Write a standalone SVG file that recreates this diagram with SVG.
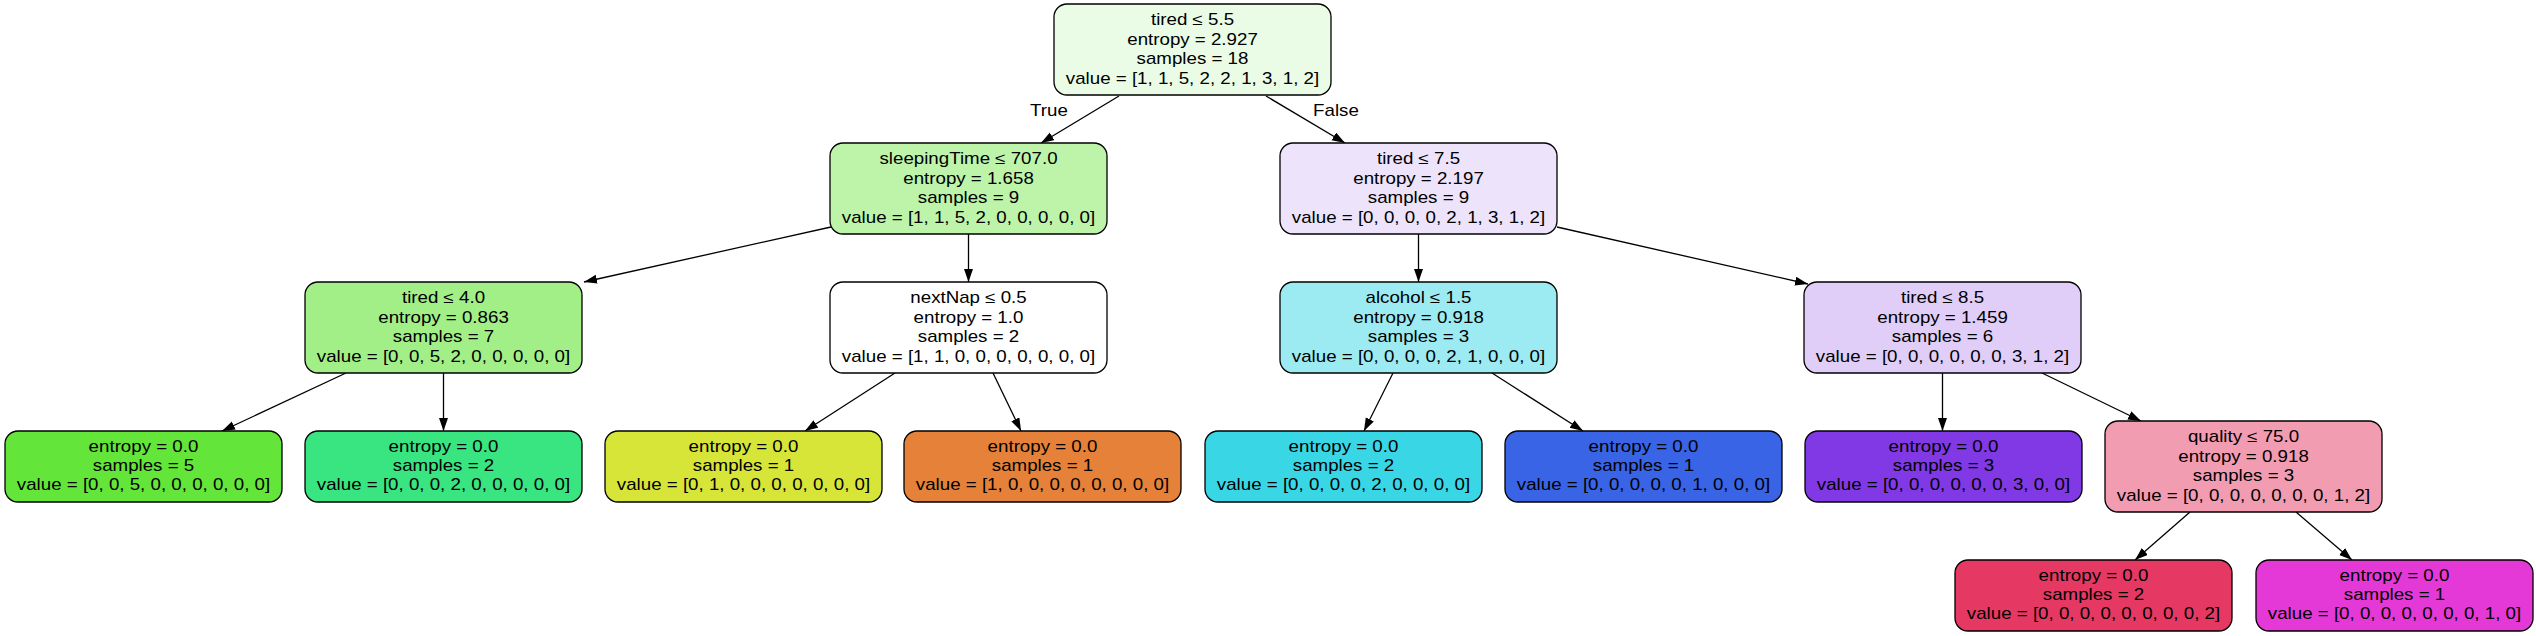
<svg xmlns="http://www.w3.org/2000/svg" width="2536" height="636" viewBox="0 0 2536 636">
<style>
.box{stroke:#000;stroke-width:1.3}
.t{font-family:"Liberation Sans",Arial,sans-serif;font-size:16px;fill:#000;text-anchor:middle}
.e{stroke:#000;stroke-width:1.3;fill:none;marker-end:url(#ah)}
</style>
<defs>
<marker id="ah" markerUnits="userSpaceOnUse" markerWidth="14" markerHeight="10" refX="13" refY="4.5" orient="auto">
<path d="M0,0 L13,4.5 L0,9 z" fill="#000"/>
</marker>
</defs>
<rect width="2536" height="636" fill="#fff"/>
<g id="edges">
<line class="e" x1="1119" y1="96" x2="1041" y2="143"/>
<line class="e" x1="1266" y1="96" x2="1345" y2="143"/>
<line class="e" x1="831" y1="227" x2="584" y2="282"/>
<line class="e" x1="968.5" y1="234" x2="968.5" y2="282"/>
<line class="e" x1="1418.5" y1="234" x2="1418.5" y2="282"/>
<line class="e" x1="1557" y1="227" x2="1808" y2="284"/>
<line class="e" x1="346" y1="373" x2="222" y2="431"/>
<line class="e" x1="443.5" y1="373" x2="443.5" y2="431"/>
<line class="e" x1="895" y1="373" x2="805" y2="431"/>
<line class="e" x1="993" y1="373" x2="1021" y2="431"/>
<line class="e" x1="1393" y1="373" x2="1364" y2="431"/>
<line class="e" x1="1492" y1="373" x2="1583" y2="431"/>
<line class="e" x1="1942.5" y1="373" x2="1942.5" y2="431"/>
<line class="e" x1="2042" y1="373" x2="2141" y2="421"/>
<line class="e" x1="2190" y1="512" x2="2135" y2="560"/>
<line class="e" x1="2296" y1="512" x2="2352" y2="560"/>
<text class="t" transform="translate(1049,116) scale(1.17,1)">True</text>
<text class="t" transform="translate(1336,116) scale(1.17,1)">False</text>
</g>
<g id="root">
<rect class="box" x="1054" y="4" width="277" height="91" rx="13" fill="#eafce5"/>
<text class="t" transform="translate(1192.5,0) scale(1.17,1)"><tspan x="0" y="25.5">tired ≤ 5.5</tspan><tspan x="0" y="45">entropy = 2.927</tspan><tspan x="0" y="64.5">samples = 18</tspan><tspan x="0" y="84">value = [1, 1, 5, 2, 2, 1, 3, 1, 2]</tspan></text>
</g>
<g id="n1">
<rect class="box" x="830" y="143" width="277" height="91" rx="13" fill="#bdf4aa"/>
<text class="t" transform="translate(968.5,139) scale(1.17,1)"><tspan x="0" y="25.5">sleepingTime ≤ 707.0</tspan><tspan x="0" y="45">entropy = 1.658</tspan><tspan x="0" y="64.5">samples = 9</tspan><tspan x="0" y="84">value = [1, 1, 5, 2, 0, 0, 0, 0, 0]</tspan></text>
</g>
<g id="n2">
<rect class="box" x="1280" y="143" width="277" height="91" rx="13" fill="#ede3fb"/>
<text class="t" transform="translate(1418.5,139) scale(1.17,1)"><tspan x="0" y="25.5">tired ≤ 7.5</tspan><tspan x="0" y="45">entropy = 2.197</tspan><tspan x="0" y="64.5">samples = 9</tspan><tspan x="0" y="84">value = [0, 0, 0, 0, 2, 1, 3, 1, 2]</tspan></text>
</g>
<g id="n3">
<rect class="box" x="305" y="282" width="277" height="91" rx="13" fill="#a2ef88"/>
<text class="t" transform="translate(443.5,278) scale(1.17,1)"><tspan x="0" y="25.5">tired ≤ 4.0</tspan><tspan x="0" y="45">entropy = 0.863</tspan><tspan x="0" y="64.5">samples = 7</tspan><tspan x="0" y="84">value = [0, 0, 5, 2, 0, 0, 0, 0, 0]</tspan></text>
</g>
<g id="n4">
<rect class="box" x="830" y="282" width="277" height="91" rx="13" fill="#ffffff"/>
<text class="t" transform="translate(968.5,278) scale(1.17,1)"><tspan x="0" y="25.5">nextNap ≤ 0.5</tspan><tspan x="0" y="45">entropy = 1.0</tspan><tspan x="0" y="64.5">samples = 2</tspan><tspan x="0" y="84">value = [1, 1, 0, 0, 0, 0, 0, 0, 0]</tspan></text>
</g>
<g id="n5">
<rect class="box" x="1280" y="282" width="277" height="91" rx="13" fill="#9ceaf2"/>
<text class="t" transform="translate(1418.5,278) scale(1.17,1)"><tspan x="0" y="25.5">alcohol ≤ 1.5</tspan><tspan x="0" y="45">entropy = 0.918</tspan><tspan x="0" y="64.5">samples = 3</tspan><tspan x="0" y="84">value = [0, 0, 0, 0, 2, 1, 0, 0, 0]</tspan></text>
</g>
<g id="n6">
<rect class="box" x="1804" y="282" width="277" height="91" rx="13" fill="#e0cef8"/>
<text class="t" transform="translate(1942.5,278) scale(1.17,1)"><tspan x="0" y="25.5">tired ≤ 8.5</tspan><tspan x="0" y="45">entropy = 1.459</tspan><tspan x="0" y="64.5">samples = 6</tspan><tspan x="0" y="84">value = [0, 0, 0, 0, 0, 0, 3, 1, 2]</tspan></text>
</g>
<g id="L1">
<rect class="box" x="5" y="431" width="277" height="71" rx="13" fill="#64e539"/>
<text class="t" transform="translate(143.5,431) scale(1.17,1)"><tspan x="0" y="21">entropy = 0.0</tspan><tspan x="0" y="40">samples = 5</tspan><tspan x="0" y="59.5">value = [0, 0, 5, 0, 0, 0, 0, 0, 0]</tspan></text>
</g>
<g id="L2">
<rect class="box" x="305" y="431" width="277" height="71" rx="13" fill="#39e581"/>
<text class="t" transform="translate(443.5,431) scale(1.17,1)"><tspan x="0" y="21">entropy = 0.0</tspan><tspan x="0" y="40">samples = 2</tspan><tspan x="0" y="59.5">value = [0, 0, 0, 2, 0, 0, 0, 0, 0]</tspan></text>
</g>
<g id="L3">
<rect class="box" x="605" y="431" width="277" height="71" rx="13" fill="#d7e539"/>
<text class="t" transform="translate(743.5,431) scale(1.17,1)"><tspan x="0" y="21">entropy = 0.0</tspan><tspan x="0" y="40">samples = 1</tspan><tspan x="0" y="59.5">value = [0, 1, 0, 0, 0, 0, 0, 0, 0]</tspan></text>
</g>
<g id="L4">
<rect class="box" x="904" y="431" width="277" height="71" rx="13" fill="#e58139"/>
<text class="t" transform="translate(1042.5,431) scale(1.17,1)"><tspan x="0" y="21">entropy = 0.0</tspan><tspan x="0" y="40">samples = 1</tspan><tspan x="0" y="59.5">value = [1, 0, 0, 0, 0, 0, 0, 0, 0]</tspan></text>
</g>
<g id="L5">
<rect class="box" x="1205" y="431" width="277" height="71" rx="13" fill="#39d7e5"/>
<text class="t" transform="translate(1343.5,431) scale(1.17,1)"><tspan x="0" y="21">entropy = 0.0</tspan><tspan x="0" y="40">samples = 2</tspan><tspan x="0" y="59.5">value = [0, 0, 0, 0, 2, 0, 0, 0, 0]</tspan></text>
</g>
<g id="L6">
<rect class="box" x="1505" y="431" width="277" height="71" rx="13" fill="#3964e5"/>
<text class="t" transform="translate(1643.5,431) scale(1.17,1)"><tspan x="0" y="21">entropy = 0.0</tspan><tspan x="0" y="40">samples = 1</tspan><tspan x="0" y="59.5">value = [0, 0, 0, 0, 0, 1, 0, 0, 0]</tspan></text>
</g>
<g id="L7">
<rect class="box" x="1805" y="431" width="277" height="71" rx="13" fill="#8139e5"/>
<text class="t" transform="translate(1943.5,431) scale(1.17,1)"><tspan x="0" y="21">entropy = 0.0</tspan><tspan x="0" y="40">samples = 3</tspan><tspan x="0" y="59.5">value = [0, 0, 0, 0, 0, 0, 3, 0, 0]</tspan></text>
</g>
<g id="Q">
<rect class="box" x="2105" y="421" width="277" height="91" rx="13" fill="#f29cb2"/>
<text class="t" transform="translate(2243.5,417) scale(1.17,1)"><tspan x="0" y="25.5">quality ≤ 75.0</tspan><tspan x="0" y="45">entropy = 0.918</tspan><tspan x="0" y="64.5">samples = 3</tspan><tspan x="0" y="84">value = [0, 0, 0, 0, 0, 0, 0, 1, 2]</tspan></text>
</g>
<g id="L8">
<rect class="box" x="1955" y="560" width="277" height="71" rx="13" fill="#e53964"/>
<text class="t" transform="translate(2093.5,560) scale(1.17,1)"><tspan x="0" y="21">entropy = 0.0</tspan><tspan x="0" y="40">samples = 2</tspan><tspan x="0" y="59.5">value = [0, 0, 0, 0, 0, 0, 0, 0, 2]</tspan></text>
</g>
<g id="L9">
<rect class="box" x="2256" y="560" width="277" height="71" rx="13" fill="#e539d7"/>
<text class="t" transform="translate(2394.5,560) scale(1.17,1)"><tspan x="0" y="21">entropy = 0.0</tspan><tspan x="0" y="40">samples = 1</tspan><tspan x="0" y="59.5">value = [0, 0, 0, 0, 0, 0, 0, 1, 0]</tspan></text>
</g>
</svg>
